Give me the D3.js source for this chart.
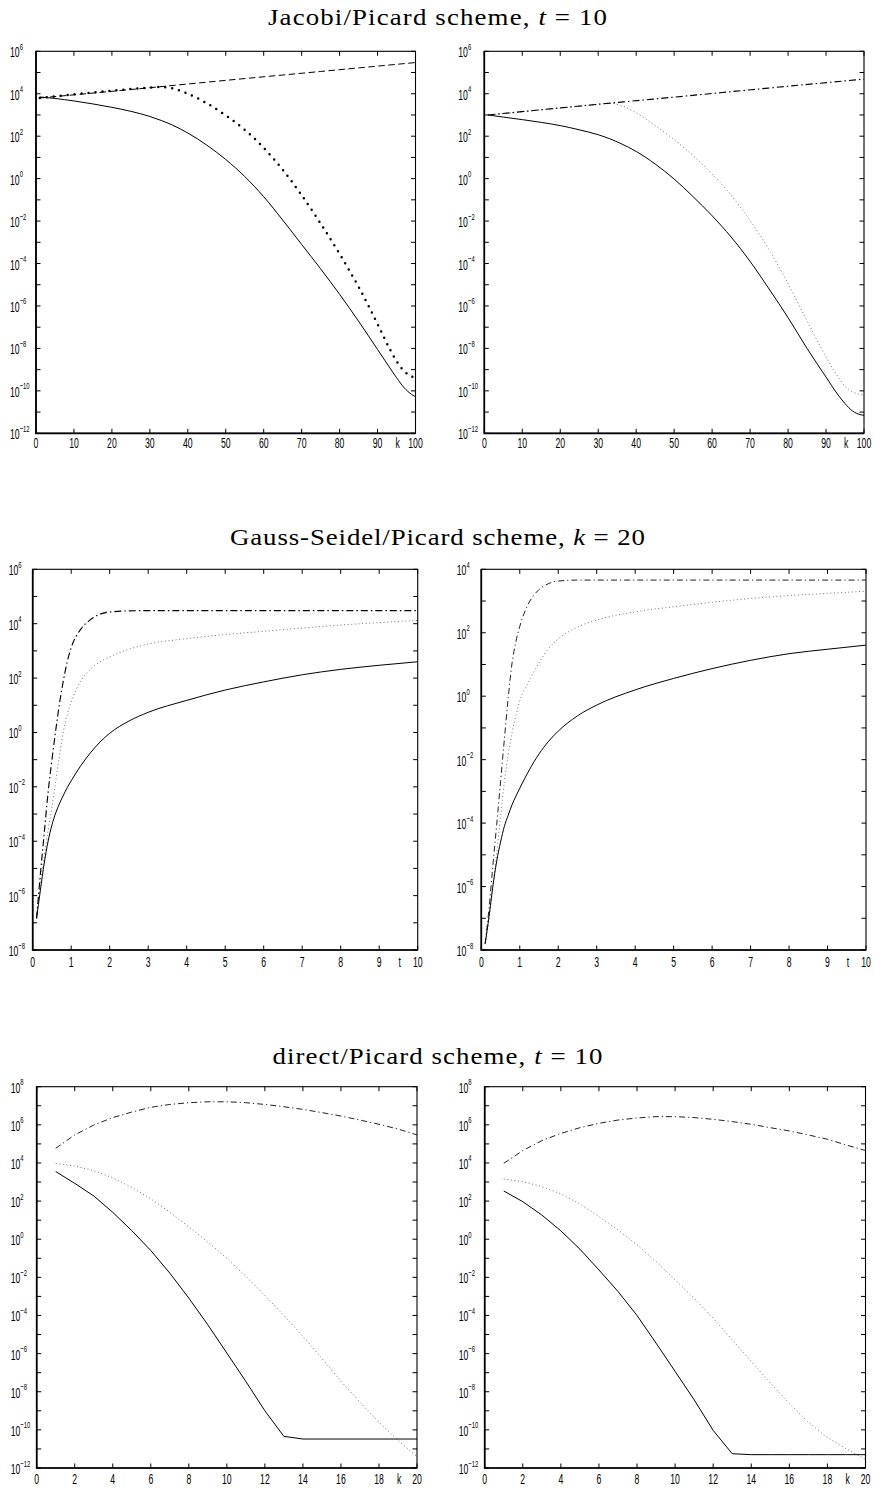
<!DOCTYPE html>
<html>
<head>
<meta charset="utf-8">
<script src="https://cdn.jsdelivr.net/npm/d3@7"></script>
<style>
  body { margin: 0; background: #fff; }
  svg { display: block; }
</style>
</head>
<body>
<svg id="fig" width="874" height="1488"></svg>
<script>
// ---------------------------------------------------------------
// Jacobi/Picard scheme, t = 10  (error norms versus iteration k)
// ---------------------------------------------------------------
const jacobiK = [1, 5, 10, 15, 20, 25, 30, 33, 36, 40, 45, 50, 55, 60, 65, 70, 75, 80, 85, 90, 93, 95, 97, 99, 100];

const jacobiLeftSolid = [7.08e3, 6.03e3, 4.57e3, 3.31e3, 2.29e3, 1.48e3, 8.51e2, 5.50e2, 3.31e2, 1.41e2,
  3.80e1, 7.94, 1.26, 1.41e-1, 1.12e-2, 7.94e-4, 5.62e-5, 3.55e-6, 1.91e-7, 8.91e-9,
  1.41e-9, 4.17e-10, 1.41e-10, 6.76e-11, 5.25e-11];
const jacobiLeftDots = [6.31e3, 7.59e3, 9.33e3, 1.15e4, 1.38e4, 1.66e4, 1.95e4, 2.09e4, 1.78e4, 1.0e4,
  3.55e3, 9.55e2, 2.0e2, 2.82e1, 2.63, 1.66e-1, 7.59e-3, 2.82e-4, 7.94e-6, 1.41e-7,
  1.12e-8, 2.51e-9, 8.51e-10, 4.79e-10, 3.98e-10];
const jacobiLeftDashK = [1, 25, 50, 75, 100];
const jacobiLeftDashed = [6.31e3, 1.58e4, 4.27e4, 1.12e5, 2.95e5];

const jacobiRightSolid = [1.0e3, 7.94e2, 6.03e2, 4.47e2, 3.16e2, 2.0e2, 1.17e2, 7.59e1, 4.47e1, 1.91e1,
  4.90, 9.55e-1, 1.41e-1, 1.78e-2, 1.78e-3, 1.26e-4, 6.31e-6, 2.82e-7, 1.0e-8, 4.47e-10,
  7.08e-11, 2.51e-11, 1.12e-11, 7.59e-12, 7.08e-12];
const jacobiRightDotted = [1.0e3, 1.17e3, 1.41e3, 1.74e3, 2.09e3, 2.57e3, 3.16e3, 3.55e3, 2.82e3, 1.26e3,
  3.16e2, 6.76e1, 1.20e1, 1.66, 1.66e-1, 1.05e-2, 4.47e-4, 1.12e-5, 2.0e-7, 3.98e-9,
  5.01e-10, 1.66e-10, 8.91e-11, 6.76e-11, 6.31e-11];
const jacobiRightDashDotK = [1, 25, 50, 75, 100];
const jacobiRightDashDot = [1.0e3, 2.63e3, 6.92e3, 1.86e4, 4.90e4];

// ---------------------------------------------------------------
// Gauss-Seidel/Picard scheme, k = 20  (error norms versus time t)
// ---------------------------------------------------------------
const gaussT = [0.1, 0.2, 0.3, 0.4, 0.5, 0.6, 0.7, 0.8, 0.9, 1, 1.25, 1.5, 1.75, 2, 2.5, 3, 4, 5, 6, 7, 8, 9, 10];

const gaussLeftDashDot = [1.45e-7, 6.31e-6, 2.0e-4, 6.31e-3, 1.0e-1, 1.26, 1.26e1, 8.51e1, 4.17e2, 1.32e3,
  6.31e3, 1.41e4, 2.24e4, 2.69e4, 2.95e4, 3.02e4, 3.02e4, 3.02e4, 3.02e4, 3.02e4, 3.02e4, 3.02e4, 3.02e4];
const gaussLeftDotted = [1.45e-7, 2.82e-6, 2.82e-5, 2.51e-4, 1.78e-3, 1.78e-2, 1.58e-1, 1.12, 4.79, 1.32e1,
  7.94e1, 2.14e2, 3.98e2, 6.03e2, 1.15e3, 1.78e3, 2.82e3, 3.98e3, 5.25e3, 6.92e3, 8.91e3, 1.10e4, 1.32e4];
const gaussLeftSolid = [1.45e-7, 1.58e-6, 1.58e-5, 1.0e-4, 3.98e-4, 1.12e-3, 2.51e-3, 5.01e-3, 9.55e-3, 1.66e-2,
  6.03e-2, 1.78e-1, 4.47e-1, 9.33e-1, 2.63, 5.50, 1.51e1, 3.63e1, 7.24e1, 1.32e2, 2.09e2, 2.95e2, 3.98e2];

const gaussRightDashDot = [1.58e-8, 2.0e-7, 4.47e-6, 8.91e-5, 2.0e-3, 4.47e-2, 8.91e-1, 1.12e1, 5.25e1, 1.58e2,
  9.33e2, 2.29e3, 3.55e3, 4.27e3, 4.57e3, 4.57e3, 4.57e3, 4.57e3, 4.57e3, 4.57e3, 4.57e3, 4.57e3, 4.57e3];
const gaussRightDotted = [1.58e-8, 8.91e-8, 1.0e-6, 1.12e-5, 1.58e-4, 2.0e-3, 1.41e-2, 7.08e-2, 2.51e-1, 7.08e-1,
  3.16, 1.12e1, 3.16e1, 6.31e1, 1.51e2, 2.51e2, 4.57e2, 6.61e2, 9.12e2, 1.20e3, 1.48e3, 1.74e3, 2.04e3];
const gaussRightSolid = [1.58e-8, 1.12e-7, 1.0e-6, 6.31e-6, 2.51e-5, 7.94e-5, 1.78e-4, 3.80e-4, 7.08e-4, 1.26e-3,
  4.79e-3, 1.51e-2, 3.80e-2, 7.94e-2, 2.40e-1, 5.25e-1, 1.58, 3.63, 7.41, 1.35e1, 2.19e1, 3.02e1, 4.07e1];

// ---------------------------------------------------------------
// direct/Picard scheme, t = 10  (error norms versus iteration k)
// ---------------------------------------------------------------
const directK = [1, 2, 3, 4, 5, 6, 7, 8, 9, 10, 11, 12, 13, 14, 15, 16, 17, 18, 19, 20];

const directLeftDashDot = [5.89e4, 2.95e5, 9.77e5, 2.40e6, 4.68e6, 8.32e6, 1.17e7, 1.45e7, 1.62e7, 1.62e7,
  1.45e7, 1.17e7, 8.91e6, 6.46e6, 4.37e6, 2.88e6, 1.78e6, 1.07e6, 6.03e5, 2.95e5];
const directLeftDotted = [9.55e3, 6.92e3, 3.98e3, 1.66e3, 5.25e2, 1.32e2, 2.63e1, 4.47, 7.08e-1, 1.0e-1,
  1.12e-2, 1.12e-3, 1.0e-4, 7.94e-6, 5.62e-7, 3.55e-8, 2.82e-9, 2.51e-10, 2.82e-11, 3.98e-12];
const directLeftSolid = [3.55e3, 8.51e2, 1.86e2, 2.57e1, 2.82, 2.57e-1, 1.66e-2, 8.13e-4, 3.24e-5, 1.07e-6,
  3.47e-8, 1.0e-9, 4.57e-11, 3.31e-11, 3.31e-11, 3.31e-11, 3.31e-11, 3.31e-11, 3.31e-11, 3.31e-11];

const directRightDashDot = [9.55e3, 4.47e4, 1.48e5, 3.55e5, 7.08e5, 1.20e6, 1.78e6, 2.29e6, 2.69e6, 2.69e6,
  2.40e6, 1.95e6, 1.48e6, 1.07e6, 7.08e5, 4.79e5, 2.95e5, 1.74e5, 8.71e4, 4.47e4];
const directRightDotted = [1.45e3, 1.05e3, 5.75e2, 2.40e2, 7.08e1, 1.55e1, 3.09, 5.01e-1, 6.76e-2, 7.41e-3,
  7.94e-4, 7.24e-5, 5.25e-6, 3.89e-7, 2.82e-8, 2.51e-9, 2.51e-10, 3.98e-11, 1.0e-11, 2.82e-12];
const directRightSolid = [3.39e2, 9.33e1, 1.86e1, 2.75, 3.02e-1, 2.45e-2, 1.82e-3, 1.0e-4, 3.55e-6, 1.17e-7,
  3.80e-9, 9.33e-11, 5.62e-12, 5.01e-12, 5.01e-12, 5.01e-12, 5.01e-12, 5.01e-12, 5.01e-12, 5.01e-12];

// Axis ranges and tick labelling
const kTicks100 = [0, 10, 20, 30, 40, 50, 60, 70, 80, 90, 100];
const tTicks10 = [0, 1, 2, 3, 4, 5, 6, 7, 8, 9, 10];
const kTicks20 = [0, 2, 4, 6, 8, 10, 12, 14, 16, 18, 20];
const jacobiExp = [-12, 6];
const gaussLeftExp = [-8, 6];
const gaussRightExp = [-8, 4];
const directExp = [-12, 8];

// ---------------------------------------------------------------
// Styling
// ---------------------------------------------------------------
const TICK_FONT = "'Liberation Sans', Arial, Helvetica, sans-serif";
const TITLE_FONT = "'Liberation Serif', 'Times New Roman', serif";
const SQUEEZE = 0.62;           // narrow tick lettering
const TITLE_WIDEN = 1.12;       // broad title lettering

const lineStyles = {
  solid:   { stroke: "#000", width: 1.0, dash: null, cap: "butt" },
  dashed:  { stroke: "#000", width: 1.0, dash: "6.5 3.5", cap: "butt" },
  bigDots: { stroke: "#000", width: 2.5, dash: "0 7", cap: "round" },
  dotted:  { stroke: "#707070", width: 1.0, dash: "1 2.6", cap: "butt" },
  dashDot: { stroke: "#000", width: 1.15, dash: "7 3 1.5 3", cap: "butt" },
  dashDotThin: { stroke: "#222", width: 1.0, dash: "6 3 1.2 3", cap: "butt" }
};

const titles = [
  { parts: ["Jacobi/Picard scheme, ", "t", " = 10"], y: 25, width: 339 },
  { parts: ["Gauss-Seidel/Picard scheme, ", "k", " = 20"], y: 545, width: 415 },
  { parts: ["direct/Picard scheme, ", "t", " = 10"], y: 1064, width: 330 }
];

const panels = [
  { id: "p1", box: { left: 36, right: 415.5, top: 51.3, bottom: 433.3 },
    xTicks: kTicks100, xName: "k", exp: jacobiExp, curve: d3.curveMonotoneX, labelDy: 15, yLabelGap: 26,
    series: [
      { x: jacobiLeftDashK, y: jacobiLeftDashed, style: "dashed" },
      { x: jacobiK, y: jacobiLeftSolid, style: "solid" },
      { x: jacobiK, y: jacobiLeftDots, style: "bigDots" }
    ] },
  { id: "p2", box: { left: 484.3, right: 864, top: 51.3, bottom: 433.3 },
    xTicks: kTicks100, xName: "k", exp: jacobiExp, curve: d3.curveMonotoneX, labelDy: 15, yLabelGap: 26,
    series: [
      { x: jacobiK, y: jacobiRightDotted, style: "dotted" },
      { x: jacobiRightDashDotK, y: jacobiRightDashDot, style: "dashDot" },
      { x: jacobiK, y: jacobiRightSolid, style: "solid" }
    ] },
  { id: "p3", box: { left: 32.7, right: 417.7, top: 569.3, bottom: 950 },
    xTicks: tTicks10, xName: "t", exp: gaussLeftExp, curve: d3.curveMonotoneX, labelDy: 16.5, yLabelGap: 24,
    series: [
      { x: gaussT, y: gaussLeftDotted, style: "dotted" },
      { x: gaussT, y: gaussLeftDashDot, style: "dashDot" },
      { x: gaussT, y: gaussLeftSolid, style: "solid" }
    ] },
  { id: "p4", box: { left: 481.3, right: 866, top: 569.3, bottom: 950 },
    xTicks: tTicks10, xName: "t", exp: gaussRightExp, curve: d3.curveMonotoneX, labelDy: 16.5, yLabelGap: 24.5,
    series: [
      { x: gaussT, y: gaussRightDotted, style: "dotted" },
      { x: gaussT, y: gaussRightDashDot, style: "dashDotThin" },
      { x: gaussT, y: gaussRightSolid, style: "solid" }
    ] },
  { id: "p5", box: { left: 36.7, right: 417, top: 1086.7, bottom: 1468 },
    xTicks: kTicks20, xName: "k", exp: directExp, curve: d3.curveLinear, labelDy: 16, yLabelGap: 26,
    series: [
      { x: directK, y: directLeftDotted, style: "dotted" },
      { x: directK, y: directLeftDashDot, style: "dashDotThin" },
      { x: directK, y: directLeftSolid, style: "solid" }
    ] },
  { id: "p6", box: { left: 484.7, right: 865.5, top: 1086.7, bottom: 1468 },
    xTicks: kTicks20, xName: "k", exp: directExp, curve: d3.curveLinear, labelDy: 16, yLabelGap: 26,
    series: [
      { x: directK, y: directRightDotted, style: "dotted" },
      { x: directK, y: directRightDashDot, style: "dashDotThin" },
      { x: directK, y: directRightSolid, style: "solid" }
    ] }
];

// ---------------------------------------------------------------
// Drawing
// ---------------------------------------------------------------
const svg = d3.select("#fig");
svg.append("rect").attr("width", 874).attr("height", 1488).attr("fill", "#fff");
const defs = svg.append("defs");

// Titles with an italic math variable
titles.forEach(t => {
  const txt = svg.append("g")
    .attr("transform", `translate(437.5,${t.y}) scale(${TITLE_WIDEN},1)`)
    .append("text")
    .attr("x", 0).attr("y", 0)
    .attr("text-anchor", "middle")
    .attr("font-family", TITLE_FONT)
    .attr("font-size", 24)
    .attr("fill", "#000")
    .attr("textLength", t.width / TITLE_WIDEN)
    .attr("lengthAdjust", "spacing");
  txt.append("tspan").text(t.parts[0]);
  txt.append("tspan").attr("font-style", "italic").text(t.parts[1]);
  txt.append("tspan").text(t.parts[2]);
});

function squeezedText(g, x, y, anchor, size) {
  return g.append("g")
    .attr("transform", `translate(${x},${y}) scale(${SQUEEZE},1)`)
    .append("text")
    .attr("text-anchor", anchor)
    .attr("font-family", TICK_FONT)
    .attr("font-size", size)
    .attr("fill", "#000");
}

panels.forEach(p => {
  const b = p.box;
  const xMax = p.xTicks[p.xTicks.length - 1];
  const x = d3.scaleLinear().domain([0, xMax]).range([b.left, b.right]);
  const y = d3.scaleLog().domain([10 ** p.exp[0], 10 ** p.exp[1]]).range([b.bottom, b.top]);
  const g = svg.append("g").attr("class", p.id);

  defs.append("clipPath").attr("id", "clip-" + p.id)
    .append("rect")
    .attr("x", b.left).attr("y", b.top)
    .attr("width", b.right - b.left).attr("height", b.bottom - b.top);

  // curves
  const plot = g.append("g").attr("clip-path", `url(#clip-${p.id})`);
  p.series.forEach(s => {
    const st = lineStyles[s.style];
    const pts = s.x.map((xv, i) => [xv, s.y[i]]);
    const line = d3.line().x(d => x(d[0])).y(d => y(d[1])).curve(p.curve);
    plot.append("path")
      .attr("d", line(pts))
      .attr("fill", "none")
      .attr("stroke", st.stroke)
      .attr("stroke-width", st.width)
      .attr("stroke-linecap", st.cap)
      .attr("stroke-linejoin", "round")
      .attr("stroke-dasharray", st.dash);
  });

  // inward ticks, all four sides
  const tickLen = 4.5;
  const decades = d3.range(p.exp[0], p.exp[1] + 1);
  const ticks = g.append("g").attr("stroke", "#000").attr("stroke-width", 1);
  p.xTicks.forEach(v => {
    const xv = x(v);
    ticks.append("line").attr("x1", xv).attr("x2", xv).attr("y1", b.bottom).attr("y2", b.bottom - tickLen);
    ticks.append("line").attr("x1", xv).attr("x2", xv).attr("y1", b.top).attr("y2", b.top + tickLen);
  });
  decades.forEach(e => {
    const yv = y(10 ** e);
    ticks.append("line").attr("x1", b.left).attr("x2", b.left + tickLen).attr("y1", yv).attr("y2", yv);
    ticks.append("line").attr("x1", b.right).attr("x2", b.right - tickLen).attr("y1", yv).attr("y2", yv);
  });

  // frame
  g.append("rect")
    .attr("x", b.left).attr("y", b.top)
    .attr("width", b.right - b.left).attr("height", b.bottom - b.top)
    .attr("fill", "none").attr("stroke", "#000").attr("stroke-width", 1.1);
  g.append("path")
    .attr("d", `M${b.left},${b.top}V${b.bottom}H${b.right}`)
    .attr("fill", "none").attr("stroke", "#000").attr("stroke-width", 1.7);

  // x tick labels, with the variable name sitting between the last two
  p.xTicks.forEach(v => {
    squeezedText(g, x(v), b.bottom + p.labelDy, "middle", 14).text(String(v));
  });
  squeezedText(g, x(xMax * 0.953), b.bottom + p.labelDy, "middle", 14).text(p.xName);

  // y tick labels 10^n at even decades
  decades.filter(e => e % 2 === 0).forEach(e => {
    const yv = y(10 ** e);
    const t = squeezedText(g, b.left - p.yLabelGap, yv + 6, "start", 14);
    t.append("tspan").text("10");
    t.append("tspan").attr("dy", -7.5).attr("font-size", 9.5).text(e < 0 ? "\u2212" + Math.abs(e) : String(e));
  });
});
</script>
</body>
</html>
